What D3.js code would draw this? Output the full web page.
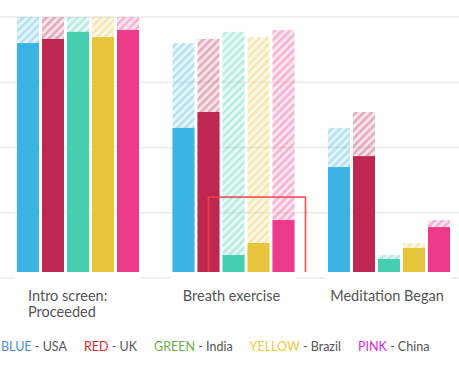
<!DOCTYPE html>
<html>
<head>
<meta charset="utf-8">
<script src="https://cdn.jsdelivr.net/npm/d3@7/dist/d3.min.js"></script>
<style>
  html, body { margin: 0; padding: 0; background: #fff; }
  svg { display: block; }
  text { font-family: Lato, "Open Sans", sans-serif; }
</style>
</head>
<body>
<svg id="chart" width="459" height="383"></svg>
<script>
// ---- data ----
const categories = ["Intro screen: Proceeded", "Breath exercise", "Meditation Began"];
const categoryLines = [["Intro screen:", "Proceeded"], ["Breath exercise"], ["Meditation Began"]];
const seriesNames = ["USA", "UK", "India", "Brazil", "China"];
const colorNames = ["BLUE", "RED", "GREEN", "YELLOW", "PINK"];
const usa    = [90.0, 57.5, 42.5];
const uk     = [91.6, 63.6, 46.7];
const india  = [94.3,  8.8,  7.3];
const brazil = [92.3, 13.4, 11.5];
const china  = [95.0, 22.2, 19.5];
const startValue = 100;
const gridTicks = [0, 25, 50, 75, 100];
const barColors = ["#3bb4e5", "#bd2750", "#45cfb0", "#e6c53b", "#ec3a8b"];
const legendColors = ["#4a8fd6", "#d42a30", "#6ab04c", "#f1c94a", "#e02ae0"];
const annotationTop = 31;

const seriesValues = [usa, uk, india, brazil, china];

const svg = d3.select("#chart");
const plotTop = 17, plotBottom = 278, clipBottom = 272;

const y = d3.scaleLinear().domain([0, 100]).range([plotBottom, plotTop]);
const x0 = d3.scaleBand().domain(categories).range([17, 450]).paddingInner(0.2154).paddingOuter(0);
const x1 = d3.scaleBand().domain(seriesNames).range([0, x0.bandwidth()]).paddingInner(0.12).paddingOuter(0);

// patterns
const defs = svg.append("defs");
seriesNames.forEach((s, i) => {
  const p = defs.append("pattern")
    .attr("id", "hatch" + i)
    .attr("patternUnits", "userSpaceOnUse")
    .attr("width", 5.5).attr("height", 5.5)
    .attr("patternTransform", "rotate(45)");
  p.append("rect").attr("width", 5.5).attr("height", 5.5).attr("fill", barColors[i]).attr("fill-opacity", 0.12);
  p.append("rect").attr("width", 2.6).attr("height", 5.5).attr("fill", barColors[i]).attr("fill-opacity", 0.3);
});
defs.append("clipPath").attr("id", "plotClip")
  .append("rect").attr("x", 0).attr("y", 0).attr("width", 459).attr("height", clipBottom);

// gridlines
svg.append("g").selectAll("line").data(gridTicks).join("line")
  .attr("x1", 0).attr("x2", 459)
  .attr("y1", d => y(d)).attr("y2", d => y(d))
  .attr("stroke", "#efefef").attr("stroke-width", 2);

// cover bottom gridline under groups
svg.append("g").selectAll("rect").data(categories).join("rect")
  .attr("x", d => x0(d) - 2).attr("width", x0.bandwidth() + 4)
  .attr("y", clipBottom).attr("height", plotBottom - clipBottom + 3)
  .attr("fill", "#fff");

const plot = svg.append("g").attr("clip-path", "url(#plotClip)");

const rows = [];
categories.forEach((c, ci) => {
  seriesNames.forEach((s, si) => {
    const v = seriesValues[si][ci];
    const prev = ci === 0 ? startValue : seriesValues[si][ci - 1];
    rows.push({ c, s, si, v, prev });
  });
});

// hatched previous-step bars
plot.append("g").selectAll("rect").data(rows).join("rect")
  .attr("x", d => x0(d.c) + x1(d.s))
  .attr("width", x1.bandwidth())
  .attr("y", d => y(d.prev))
  .attr("height", d => y(0) - y(d.prev))
  .attr("fill", d => `url(#hatch${d.si})`);

// solid bars
plot.append("g").selectAll("rect").data(rows).join("rect")
  .attr("x", d => x0(d.c) + x1(d.s))
  .attr("width", x1.bandwidth())
  .attr("y", d => y(d.v))
  .attr("height", d => y(0) - y(d.v))
  .attr("fill", d => barColors[d.si]);

// annotation box
const annCat = categories[1];
const annX1 = x0(annCat) + x1("UK") + x1.bandwidth() / 2;
const annX2 = x0(annCat) + x1("China") + x1.bandwidth() * 1.5;
plot.append("path")
  .attr("d", `M${annX1},${y(0)} V${y(annotationTop)} H${annX2} V${y(0)}`)
  .attr("fill", "none").attr("stroke", "#ee4448").attr("stroke-width", 1.8).attr("stroke-opacity", 0.85);

// category labels
categories.forEach((c, ci) => {
  const lines = categoryLines[ci];
  const t = svg.append("text").attr("fill", "#555").attr("font-size", 14.5);
  if (lines.length > 1) {
    lines.forEach((l, li) => {
      t.append("tspan").attr("x", x0(c) + 11).attr("y", 301 + li * 16).text(l);
    });
  } else {
    t.attr("x", x0(c) + x0.bandwidth() / 2 - 2).attr("y", 301).attr("text-anchor", "middle").text(lines[0]);
  }
});

// legend
let lx = 1;
seriesNames.forEach((s, i) => {
  const t = svg.append("text").attr("x", lx).attr("y", 351).attr("font-size", 12.5);
  t.append("tspan").attr("fill", legendColors[i]).text(colorNames[i]);
  t.append("tspan").attr("fill", "#555").text(" - " + s);
  lx += t.node().getComputedTextLength() + 17;
});
</script>
</body>
</html>
